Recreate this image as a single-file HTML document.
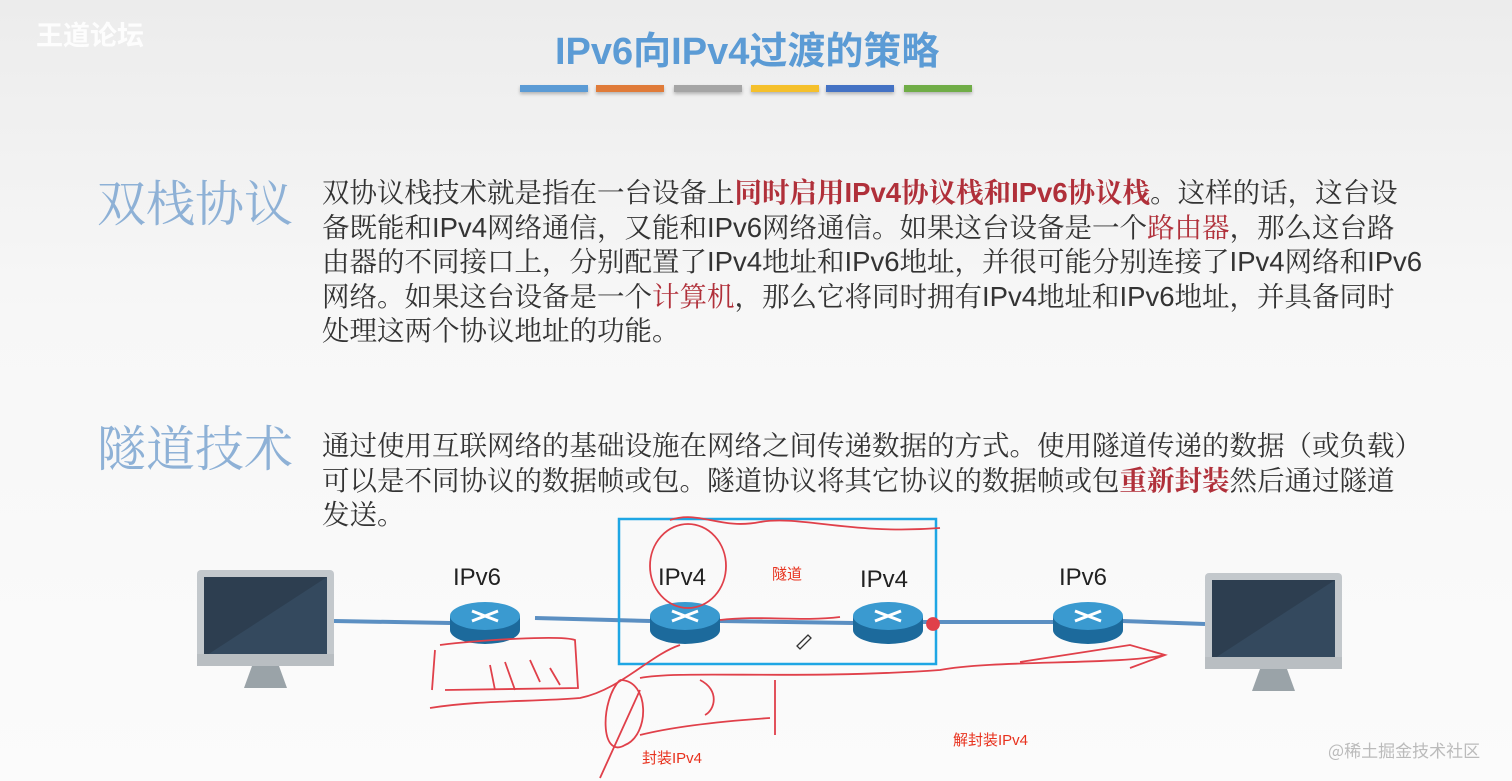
<!DOCTYPE html>
<html><head><meta charset="utf-8"><style>
html,body{margin:0;padding:0}
body{width:1512px;height:781px;overflow:hidden;position:relative;background:linear-gradient(#ececec,#f7f7f7 40%,#fbfbfb);font-family:"Liberation Sans","Noto Serif CJK SC",serif}
.abs{position:absolute;white-space:nowrap}
.title{left:555px;top:20px;font-size:38px;font-weight:bold;color:#5b9bd5;font-family:"Liberation Sans","Noto Sans CJK SC",sans-serif}
.bar{position:absolute;top:85px;width:68px;height:7px;box-shadow:0 2px 3px rgba(0,0,0,.25)}
.h{font-family:"Noto Serif CJK SC",serif;font-size:49px;color:#8eb1d6;left:97px}
.p{left:322px;font-size:27.5px;line-height:34.5px;color:#333;font-family:"Liberation Sans","Noto Serif CJK SC",serif}
.r{color:#b0303a}.rb{color:#b0303a;font-weight:bold}
.lab{font-size:24px;color:#222;font-family:"Liberation Sans","Noto Sans CJK SC",sans-serif}
.red{color:#e8321e;font-size:15px;font-family:"Liberation Sans","Noto Sans CJK SC",sans-serif}
</style></head><body>
<div class="abs" style="left:36px;top:14px;font-size:27px;color:#fff;font-weight:bold;font-family:'Noto Sans CJK SC',sans-serif;opacity:.9">王道论坛</div>
<div class="abs title">IPv6向IPv4过渡的策略</div>
<div class="bar" style="left:520px;background:#5b9bd5"></div>
<div class="bar" style="left:596px;background:#e07b39"></div>
<div class="bar" style="left:674px;background:#a5a5a5"></div>
<div class="bar" style="left:751px;background:#f5c02c"></div>
<div class="bar" style="left:826px;background:#4472c4"></div>
<div class="bar" style="left:904px;background:#70ad47"></div>

<div class="abs h" style="top:166px">双栈协议</div>
<div class="abs p" style="top:176px">双协议栈技术就是指在一台设备上<span class="rb">同时启用IPv4协议栈和IPv6协议栈</span>。这样的话，这台设<br>备既能和IPv4网络通信，又能和IPv6网络通信。如果这台设备是一个<span class="r">路由器</span>，那么这台路<br>由器的不同接口上，分别配置了IPv4地址和IPv6地址，并很可能分别连接了IPv4网络和IPv6<br>网络。如果这台设备是一个<span class="r">计算机</span>，那么它将同时拥有IPv4地址和IPv6地址，并具备同时<br>处理这两个协议地址的功能。</div>

<div class="abs h" style="top:411px">隧道技术</div>
<div class="abs p" style="top:429px">通过使用互联网络的基础设施在网络之间传递数据的方式。使用隧道传递的数据（或负载）<br>可以是不同协议的数据帧或包。隧道协议将其它协议的数据帧或包<span class="rb">重新封装</span>然后通过隧道<br>发送。</div>

<svg class="abs" style="left:0;top:0" width="1512" height="781">
<defs>
<g id="rt"><ellipse cx="35" cy="28" rx="35" ry="14" fill="#1c6a9c"/><rect x="0" y="14" width="70" height="14" fill="#1c6a9c"/><ellipse cx="35" cy="14" rx="35" ry="14" fill="#3a9ad0"/>
<path d="M22 9 L48 19 M22 19 L48 9" stroke="#fff" stroke-width="3"/></g>
<g id="mon"><rect x="0" y="0" width="137" height="96" rx="4" fill="#c3c8cc"/><rect x="7" y="7" width="123" height="80" fill="#2d3e50"/><path d="M7 87 L130 7 L130 87Z" fill="#34495e"/><rect x="0" y="84" width="137" height="12" fill="#b9bec2"/><path d="M55 96 L82 96 L90 118 L47 118Z" fill="#9aa3a8"/></g>
</defs>
<g stroke="#5b8fc2" stroke-width="4">
<line x1="334" y1="621" x2="450" y2="623"/><line x1="535" y1="618" x2="650" y2="621"/>
<line x1="720" y1="621" x2="853" y2="623"/><line x1="922" y1="622" x2="1053" y2="622"/><line x1="1122" y1="621" x2="1205" y2="624"/>
</g>
<use href="#mon" x="197" y="570"/><use href="#mon" x="1205" y="573"/>
<use href="#rt" x="450" y="602"/><use href="#rt" x="650" y="602"/><use href="#rt" x="853" y="602"/><use href="#rt" x="1053" y="602"/>
<rect x="619" y="519" width="317" height="145" fill="none" stroke="#1ea6e4" stroke-width="2.5"/>
<g fill="none" stroke="#e0404a" stroke-width="1.8">
<path d="M670 520 C700 510 720 530 760 522 C800 515 850 535 940 528"/>
<ellipse cx="688" cy="566" rx="38" ry="42"/>
<path d="M720 620 C760 615 800 622 840 617"/>
<path d="M435 650 L432 690 M440 645 C480 640 560 635 575 640 L578 688 L445 690 M430 708 C480 700 530 702 580 698 C620 690 650 655 680 645"/>
<path d="M490 665 L495 690 M505 662 L515 690 M530 660 L540 682 M550 668 L560 685"/>
<path d="M620 680 C600 700 600 760 625 745 C650 735 650 680 620 680 M600 778 L640 690"/>
<path d="M640 678 C680 670 800 680 940 670 C990 660 1120 665 1165 655 M1020 662 L1130 645 L1165 655 L1130 668"/>
<path d="M640 735 C680 725 740 720 770 718 M775 680 L775 735 M700 680 C720 690 715 710 705 715"/>
<circle cx="933" cy="624" r="6" fill="#e0404a"/>
</g>
<path d="M797 646 L808 635 L811 638 L800 649Z" fill="none" stroke="#333" stroke-width="1.3"/>
</svg>
<div class="abs lab" style="left:453px;top:564px">IPv6</div>
<div class="abs lab" style="left:658px;top:564px">IPv4</div>
<div class="abs lab" style="left:860px;top:566px">IPv4</div>
<div class="abs lab" style="left:1059px;top:564px">IPv6</div>
<div class="abs red" style="left:772px;top:563px">隧道</div>
<div class="abs red" style="left:642px;top:747px">封装IPv4</div>
<div class="abs red" style="left:953px;top:729px">解封装IPv4</div>
<div class="abs" style="left:1328px;top:737px;font-size:17px;color:#bbb;font-family:'Noto Sans CJK SC',sans-serif">@稀土掘金技术社区</div>
</body></html>
